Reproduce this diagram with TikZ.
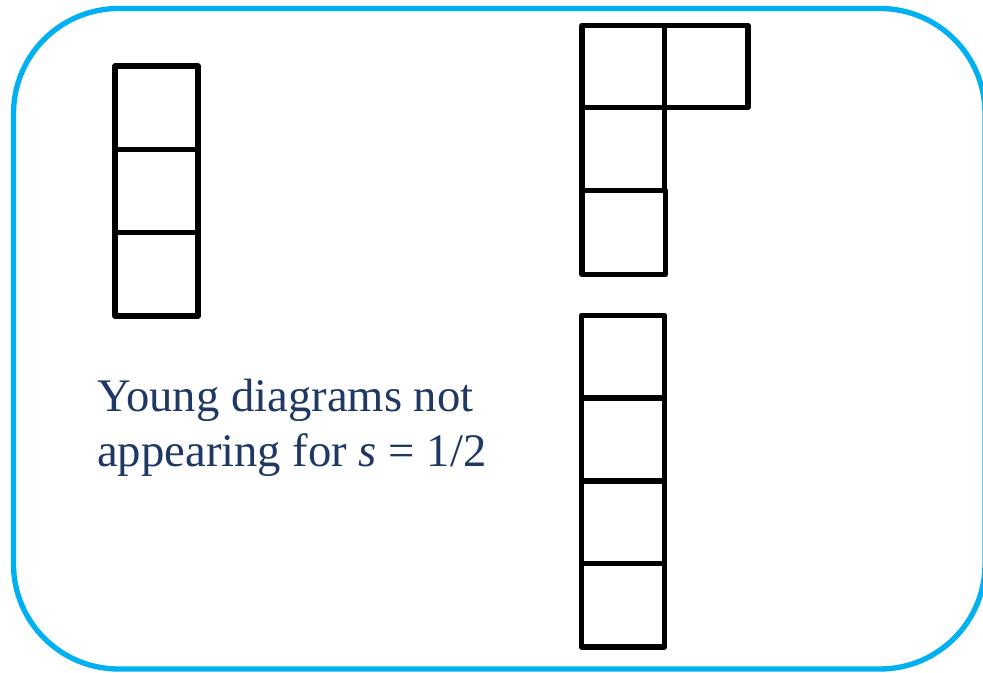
\documentclass[tikz,border=0pt]{standalone}
\usepackage{fontspec}
\setmainfont{Liberation Serif}
\definecolor{framecyan}{HTML}{00B0F0}
\definecolor{textnavy}{HTML}{1F3864}
\begin{document}
\begin{tikzpicture}[x=0.75pt,y=-0.75pt,
  cell/.style={draw=black,line width=4.1pt,line join=round},
  frame/.style={draw=framecyan,line width=4pt,rounded corners=78.75pt},
  caption/.style={anchor=base west,inner sep=0pt,text=textnavy,font=\fontsize{35pt}{42pt}\selectfont}]
\useasboundingbox (0,0) rectangle (983,673);
\clip (0,0) rectangle (983,673);
\fill[white] (0,0) rectangle (983,673);
\draw[frame] (13.5,8.5) rectangle (985,669);
% left column (3 cells)
\draw[cell] (115,66) rectangle (198,149.5);
\draw[cell] (115,149.5) rectangle (198,232.5);
\draw[cell] (115,232.5) rectangle (198,316);
% top right shape (2,1,1)
\draw[cell] (582,25.5) rectangle (664.5,107.5);
\draw[cell] (664.5,25.5) rectangle (748,107.5);
\draw[cell] (582,107.5) rectangle (664.5,190.5);
\draw[cell] (582,190.5) rectangle (665.5,274.5);
% bottom right column (4 cells)
\draw[cell] (581.5,315.5) rectangle (664.5,398);
\draw[cell] (581.5,398) rectangle (664.5,481);
\draw[cell] (581.5,481) rectangle (664.5,563.5);
\draw[cell] (581.5,563.5) rectangle (664.5,647);
% caption
\node[caption] (line1) at (97,412) {Young diagrams not};
\node[caption] (line2) at (97,467) {appearing for \textit{s} = 1/2};
\end{tikzpicture}
\end{document}
